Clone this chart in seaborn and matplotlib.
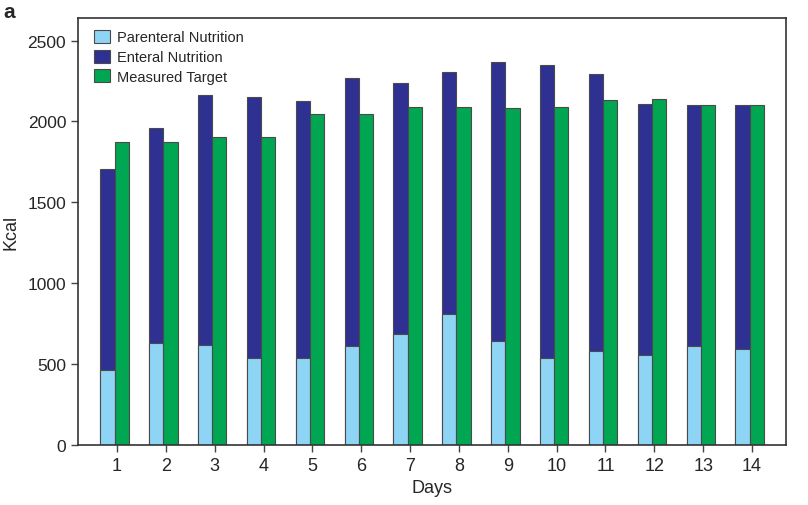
import numpy as np
import pandas as pd
import seaborn as sns
import matplotlib.pyplot as plt
from matplotlib.patches import Patch

# values (kcal per day)
days = list(range(1, 15))
parenteral = [465, 630, 620, 540, 540, 612, 688, 810, 644, 540, 582, 557, 613, 594]
total_intake = [1705, 1960, 2165, 2152, 2125, 2268, 2238, 2308, 2370, 2348, 2292, 2110, 2105, 2105]
measured_target = [1873, 1873, 1903, 1903, 2047, 2047, 2092, 2090, 2086, 2090, 2130, 2136, 2102, 2102]

series_names = ['Parenteral Nutrition', 'Enteral Nutrition', 'Measured Target']
colors = ['#8ed4f5', '#2e3192', '#00a651']

sns.set_style('ticks')
plt.rcParams['font.family'] = ['Liberation Sans', 'DejaVu Sans']

df = pd.DataFrame({'day': days, 'parenteral': parenteral,
                   'total': total_intake, 'target': measured_target})
shift = 0.05
bw = 0.29
df['x_nutr'] = df['day'] - shift - bw / 2
df['x_target'] = df['day'] - shift + bw / 2

fig = plt.figure(figsize=(8.08, 5.06), dpi=100)
ax = fig.add_axes([0.0965, 0.1186, 0.8765, 0.8439])

edge = dict(edgecolor='#4a4a4a', linewidth=0.8)
# enteral drawn as full bar, parenteral stacked from zero on top of it
sns.barplot(data=df, x='x_nutr', y='total', native_scale=True, width=bw,
            color=colors[1], saturation=1, errorbar=None, ax=ax, **edge)
sns.barplot(data=df, x='x_nutr', y='parenteral', native_scale=True, width=bw,
            color=colors[0], saturation=1, errorbar=None, ax=ax, **edge)
sns.barplot(data=df, x='x_target', y='target', native_scale=True, width=bw,
            color=colors[2], saturation=1, errorbar=None, ax=ax, **edge)

ax.set_xlim(0.2, 14.7)
ax.set_ylim(0, 2640)
ax.set_xticks(days)
ax.set_xticklabels([str(d) for d in days], fontsize=13)
ax.set_yticks([0, 500, 1000, 1500, 2000, 2500])
ax.tick_params(axis='y', labelsize=12.5, length=5, width=1, color='#444444')
ax.tick_params(axis='x', length=5, width=1, color='#444444')
ax.set_xlabel('Days', fontsize=13, labelpad=4)
ax.set_ylabel('Kcal', fontsize=13, labelpad=6)
for sp in ax.spines.values():
    sp.set_visible(True)
    sp.set_color('#333333')
    sp.set_linewidth(1.2)

handles = [Patch(facecolor=c, **edge) for c in colors]
ax.legend(handles, series_names, loc='upper left', bbox_to_anchor=(0.022, 0.972),
          frameon=False, fontsize=10.5, handlelength=1.15, handleheight=1.0,
          labelspacing=0.35, handletextpad=0.45, borderpad=0, borderaxespad=0)

fig.text(0.004, 0.995, 'a', fontsize=15, fontweight='bold', va='top', ha='left')

fig.savefig('out.png', dpi=100)
